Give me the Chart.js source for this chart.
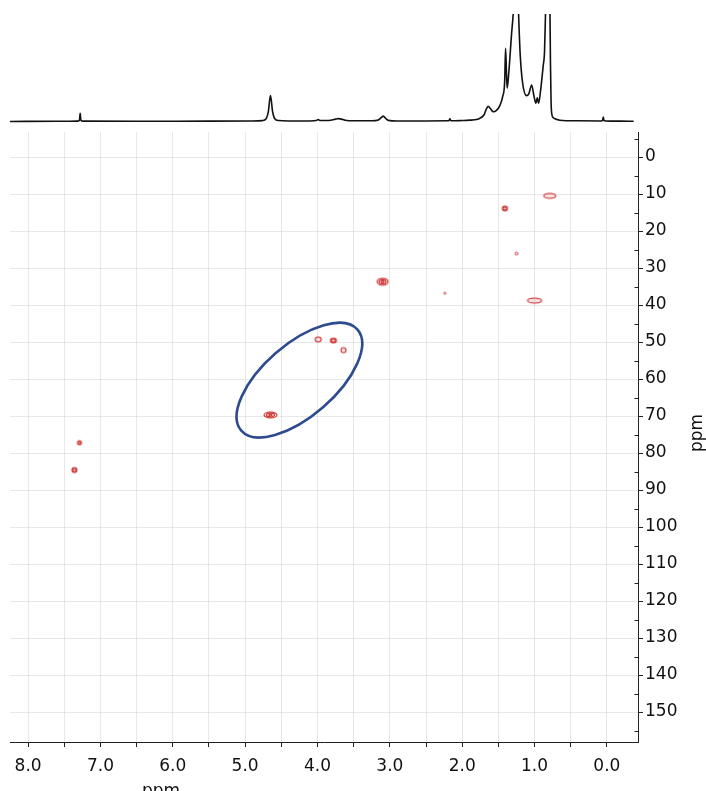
<!DOCTYPE html>
<html>
<head>
<meta charset="utf-8">
<script src="https://cdn.jsdelivr.net/npm/chart.js@4/dist/chart.umd.min.js"></script>
<style>
  html, body { margin: 0; padding: 0; background: #fff; }
  #wrap { position: relative; width: 706px; height: 791px; overflow: hidden; background: #fff; }
  #wrap canvas { position: absolute; left: 0; top: 0; }
</style>
</head>
<body>
<div id="wrap">
  <canvas id="hsqc" width="706" height="791"></canvas>
  <canvas id="proton" width="706" height="136"></canvas>
</div>
<script>
// 1H projection trace: chemical shift (ppm) and relative intensity (1 = top of the strip)
const protonShift = [
  8.25, 7.60, 7.32, 7.29, 7.28, 7.27, 7.24, 6.50, 5.50, 4.90,
  4.76, 4.71, 4.68, 4.65, 4.62, 4.59, 4.54, 4.40, 4.10, 4.02,
  3.99, 3.96, 3.88, 3.80, 3.75, 3.71, 3.67, 3.62, 3.50, 3.25,
  3.16, 3.12, 3.09, 3.06, 3.02, 2.90, 2.50, 2.20, 2.18, 2.17,
  2.16, 2.14, 2.00, 1.90, 1.80, 1.755, 1.70, 1.67, 1.64, 1.61,
  1.571, 1.53, 1.478, 1.441, 1.413, 1.400, 1.388, 1.378, 1.354, 1.317,
  1.295, 1.275, 1.255, 1.235, 1.218, 1.198, 1.165, 1.110, 1.078, 1.040,
  1.009, 0.981, 0.963, 0.944, 0.916, 0.880, 0.862, 0.845, 0.825, 0.802,
  0.788, 0.780, 0.772, 0.762, 0.740, 0.718, 0.650, 0.400, 0.080, 0.060,
  0.050, 0.040, 0.020, -0.200, -0.370
];
const protonIntensity = [
  0.000, 0.002, 0.003, 0.012, 0.075, 0.012, 0.003, 0.002, 0.003, 0.004,
  0.008, 0.025, 0.090, 0.240, 0.090, 0.025, 0.009, 0.005, 0.005, 0.009,
  0.017, 0.009, 0.009, 0.014, 0.022, 0.026, 0.022, 0.012, 0.006, 0.006,
  0.014, 0.035, 0.050, 0.030, 0.010, 0.005, 0.005, 0.006, 0.010, 0.025,
  0.010, 0.006, 0.009, 0.012, 0.018, 0.030, 0.060, 0.110, 0.140, 0.120,
  0.090, 0.100, 0.150, 0.230, 0.370, 0.680, 0.450, 0.310, 0.470, 0.820,
  1.000, 1.300, 1.500, 1.300, 0.950, 0.620, 0.360, 0.240, 0.260, 0.340,
  0.240, 0.170, 0.220, 0.170, 0.290, 0.520, 0.650, 1.100, 1.600, 1.600,
  1.100, 0.550, 0.200, 0.070, 0.035, 0.025, 0.012, 0.006, 0.005, 0.010,
  0.040, 0.010, 0.005, 0.003, 0.002
];

// HSQC cross peaks: 1H shift (ppm) and 13C shift (ppm)
const peakH = [0.79, 1.41, 1.25, 1.00, 3.10, 2.24, 3.99, 3.78, 3.64, 4.65, 7.29, 7.36];
const peakC = [10.5, 13.9, 26.1, 38.8, 33.7, 36.8, 49.3, 49.6, 52.2, 69.7, 77.2, 84.6];

// Axis tick positions
const xTickValues = [8.0, 7.5, 7.0, 6.5, 6.0, 5.5, 5.0, 4.5, 4.0, 3.5, 3.0, 2.5, 2.0, 1.5, 1.0, 0.5, 0.0];
const yTickValues = [0, 10, 20, 30, 40, 50, 60, 70, 80, 90, 100, 110, 120, 130, 140, 150];
const yMinorTicks = [-5, 5, 15, 25, 35, 45, 55, 65, 75, 85, 95, 105, 115, 125, 135, 145, 155];

// Highlighted region (centre in 1H / 13C ppm)
const highlightCenter = [4.25, 60.3];

// ---- contour glyph styles (pixel footprint and number of contour levels) ----
const contourStyles = [
  { w: 12, h: 5, rings: 1 },
  { w: 5,  h: 5, rings: 2 },
  { w: 3,  h: 3, rings: 1, faint: true },
  { w: 14, h: 5, rings: 1 },
  { w: 11, h: 7, rings: 3 },
  { w: 2,  h: 2, rings: 1, faint: true },
  { w: 6,  h: 5, rings: 1 },
  { w: 6,  h: 5, rings: 2 },
  { w: 5,  h: 5, rings: 1 },
  { w: 13, h: 6, rings: 3 },
  { w: 4,  h: 4, rings: 2 },
  { w: 5,  h: 5, rings: 2 }
];

function makeContour(st) {
  const c = document.createElement('canvas');
  c.width = st.w + 6;
  c.height = st.h + 6;
  const g = c.getContext('2d');
  const cx = c.width / 2, cy = c.height / 2;
  g.fillStyle = st.faint ? 'rgba(215,90,90,0.25)' : 'rgba(225,110,110,0.2)';
  g.beginPath();
  g.ellipse(cx, cy, st.w / 2 + 0.5, st.h / 2 + 0.5, 0, 0, Math.PI * 2);
  g.fill();
  g.strokeStyle = st.faint ? 'rgba(200,60,60,0.6)' : '#cc3333';
  g.lineWidth = 1.1;
  for (let i = 0; i < st.rings; i++) {
    const k = 1 - i * 0.38;
    const rx = Math.max(0.6, (st.w / 2) * k);
    const ry = Math.max(0.6, (st.h / 2) * k);
    g.beginPath();
    g.ellipse(cx, cy, rx, ry, 0, 0, Math.PI * 2);
    g.stroke();
  }
  return c;
}
const contourImages = contourStyles.map(makeContour);

const axisFont = { family: "'DejaVu Sans', 'Verdana', sans-serif", size: 17 };
const gridColor = 'rgba(0,0,0,0.09)';
const axisColor = '#222';

const decorations = {
  id: 'decorations',
  afterDatasetsDraw(chart) {
    const { ctx, scales: { x, y } } = chart;
    ctx.save();
    ctx.strokeStyle = '#2d4b8e';
    ctx.lineWidth = 2.6;
    ctx.beginPath();
    ctx.ellipse(x.getPixelForValue(highlightCenter[0]), y.getPixelForValue(highlightCenter[1]),
      77, 36, -41 * Math.PI / 180, 0, Math.PI * 2);
    ctx.stroke();
    ctx.restore();
  },
  afterDraw(chart) {
    const { ctx, scales: { y } } = chart;
    ctx.save();
    // minor ticks on the 13C axis
    ctx.strokeStyle = axisColor;
    ctx.lineWidth = 1;
    const ax = Math.round(y.left) + 0.5;
    yMinorTicks.forEach(v => {
      const py = Math.round(y.getPixelForValue(v)) + 0.5;
      ctx.beginPath();
      ctx.moveTo(ax - 4, py);
      ctx.lineTo(ax, py);
      ctx.stroke();
    });
    // axis titles
    ctx.fillStyle = '#111';
    ctx.font = "17px 'DejaVu Sans', sans-serif";
    ctx.textAlign = 'center';
    ctx.textBaseline = 'alphabetic';
    ctx.fillText('ppm', 161, 796);
    ctx.translate(701.5, 433);
    ctx.rotate(-Math.PI / 2);
    ctx.fillText('ppm', 0, 0);
    ctx.restore();
  }
};

new Chart(document.getElementById('hsqc'), {
  type: 'scatter',
  data: {
    datasets: [{
      data: peakH.map((h, i) => ({ x: h, y: peakC[i] })),
      pointStyle: contourImages,
      pointRadius: 4,
      showLine: false
    }]
  },
  options: {
    responsive: false,
    animation: false,
    devicePixelRatio: 1,
    events: [],
    layout: { padding: { left: 10, top: 132, right: 0, bottom: 0 } },
    plugins: { legend: { display: false }, tooltip: { enabled: false } },
    scales: {
      x: {
        type: 'linear', reverse: true, min: -0.43, max: 8.25,
        afterBuildTicks: s => { s.ticks = xTickValues.map(v => ({ value: v })); },
        afterFit: s => { s.height = 49; },
        ticks: {
          font: axisFont, color: '#111', padding: 9, maxRotation: 0, autoSkip: false,
          callback: v => (Number.isInteger(v) ? v.toFixed(1) : '')
        },
        grid: { color: gridColor, tickColor: axisColor, tickLength: 5, lineWidth: 1 },
        border: { color: axisColor, width: 1 }
      },
      y: {
        type: 'linear', position: 'right', reverse: true, min: -6.76, max: 158.1,
        afterBuildTicks: s => { s.ticks = yTickValues.map(v => ({ value: v })); },
        afterFit: s => { s.width = 68; },
        ticks: { font: axisFont, color: '#111', padding: 2, autoSkip: false, callback: v => String(v) },
        grid: { color: gridColor, tickColor: axisColor, tickLength: 5, lineWidth: 1 },
        border: { color: axisColor, width: 1 }
      }
    }
  },
  plugins: [decorations]
});

new Chart(document.getElementById('proton'), {
  type: 'line',
  data: {
    datasets: [{
      data: protonShift.map((s, i) => ({ x: s, y: protonIntensity[i] })),
      borderColor: '#111',
      borderWidth: 1.6,
      pointRadius: 0,
      fill: false,
      cubicInterpolationMode: 'monotone',
      clip: { left: 0, right: 0, top: 0, bottom: 4 }
    }]
  },
  options: {
    responsive: false,
    animation: false,
    devicePixelRatio: 1,
    events: [],
    layout: { padding: { left: 10, right: 68, top: 14, bottom: 14 } },
    plugins: { legend: { display: false }, tooltip: { enabled: false } },
    scales: {
      x: { type: 'linear', reverse: true, min: -0.43, max: 8.25, display: false },
      y: { min: -0.005, max: 1, display: false }
    }
  }
});
</script>
</body>
</html>
